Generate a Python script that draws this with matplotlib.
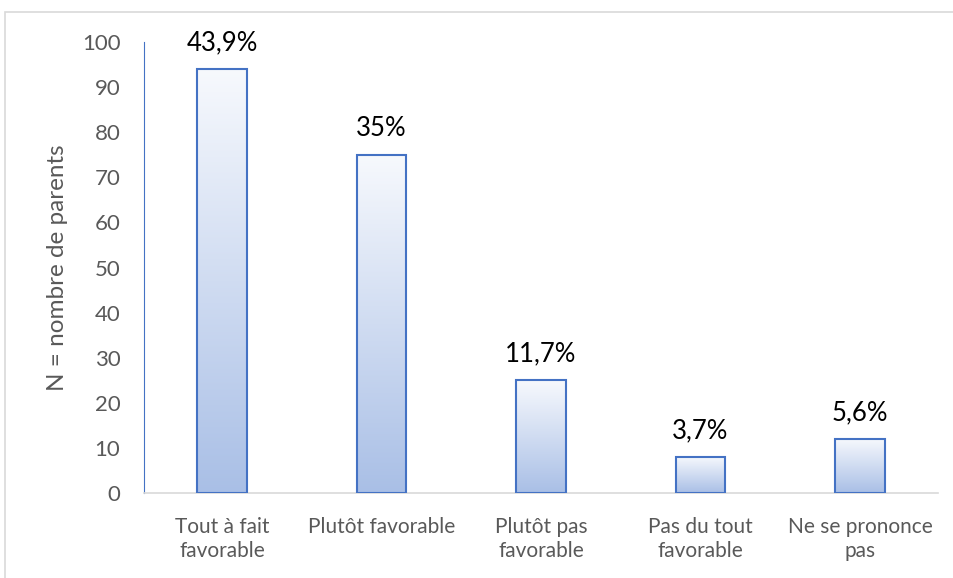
import numpy as np
import matplotlib.pyplot as plt
from matplotlib.colors import LinearSegmentedColormap
from matplotlib.patches import Rectangle

categories = ["Tout à fait\nfavorable", "Plutôt favorable", "Plutôt pas\nfavorable",
              "Pas du tout\nfavorable", "Ne se prononce\npas"]
values = [94, 75, 25, 8, 12]
labels = ["43,9%", "35%", "11,7%", "3,7%", "5,6%"]

plt.rcParams['font.family'] = ['Lato', 'DejaVu Sans']

fig = plt.figure(figsize=(9.54, 5.78), dpi=100)
ax = fig.add_axes([144 / 954, 1 - 493 / 578, (938 - 144) / 954, (493 - 42) / 578])

# light frame around the chart area
fig.patches.append(Rectangle((5 / 954, -0.1), 1.1, 1 - 12 / 578 + 0.1,
                             transform=fig.transFigure, fill=False,
                             edgecolor='#d9d9d9', linewidth=1.2))

grad = LinearSegmentedColormap.from_list('g', ['#a9bfe6', '#f7f9fd'])
x = np.arange(len(values))
bars = ax.bar(x, values, width=0.31, facecolor='none', edgecolor='#4472c4',
              linewidth=1.5, zorder=3)
g = np.linspace(0, 1, 256).reshape(-1, 1)
for b in bars:
    x0, w, h = b.get_x(), b.get_width(), b.get_height()
    im = ax.imshow(g, cmap=grad, origin='lower', aspect='auto',
                   extent=[x0, x0 + w, 0, h], zorder=2)
    im.set_clip_path(b)

for xi, v, lab in zip(x, values, labels):
    ax.text(xi, v + 4.2, lab, ha='center', va='baseline', fontsize=18.5, color='black')

ax.set_xlim(-0.49, 4.49)
ax.set_ylim(0, 100)
ax.set_yticks(range(0, 101, 10))
ax.set_xticks(x)
ax.set_xticklabels(categories, linespacing=1.25)
ax.tick_params(length=0, labelsize=15, colors='#595959')
ax.tick_params(axis='x', pad=17)
ax.tick_params(axis='y', labelsize=16, pad=17)
ax.set_ylabel('N = nombre de parents', fontsize=17.5, color='#595959', labelpad=10)
for s in ['top', 'right']:
    ax.spines[s].set_visible(False)
ax.spines['left'].set_color('#4472c4')
ax.spines['bottom'].set_color('#d9d9d9')
ax.spines['bottom'].set_linewidth(1.2)

fig.savefig('out.png', dpi=100)
